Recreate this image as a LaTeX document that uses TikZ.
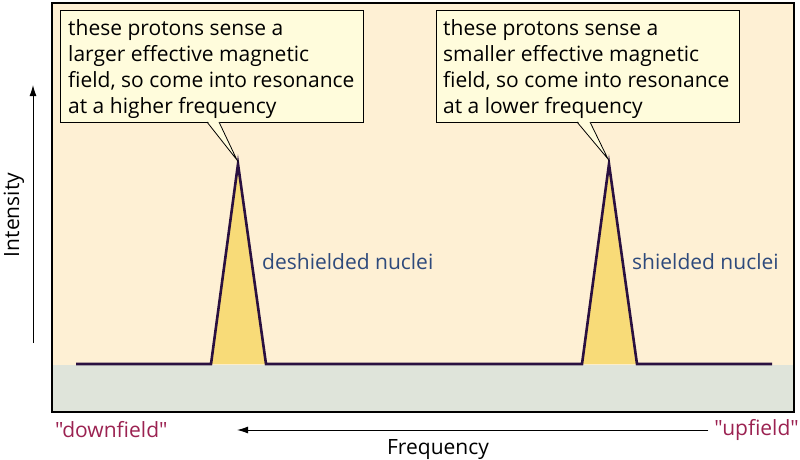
\documentclass[tikz,border=0pt]{standalone}
\usepackage{fontspec}
\setmainfont{Open Sans}[Ligatures=TeXOff]
\usetikzlibrary{arrows.meta}
\definecolor{cream}{HTML}{FEF0D4}
\definecolor{band}{HTML}{DFE4DA}
\definecolor{peakfill}{HTML}{F8DB78}
\definecolor{spec}{HTML}{2A1040}
\definecolor{callfill}{HTML}{FFFCDC}
\definecolor{nucblue}{HTML}{2E4A7C}
\definecolor{fieldred}{HTML}{9B2251}
\tikzset{
  txt/.style={font=\fontsize{21}{26}\selectfont, inner sep=0pt},
  callout/.style={draw=black, line width=1pt, fill=callfill, minimum width=303pt, minimum height=112pt, inner sep=0pt},
  calltext/.style={txt, align=left, anchor=north west},
  nuc/.style={txt, text=nucblue, anchor=west},
  fieldlbl/.style={txt, text=fieldred},
  spectrum/.style={draw=spec, line width=2.6pt, line join=miter},
  axisarrow/.style={draw=black, line width=1pt, -{Latex[length=11pt,width=7pt]}},
}
\begin{document}
\begin{tikzpicture}[x=1pt,y=-1pt]
\useasboundingbox (0,0) rectangle (800,459);
% background panel
\fill[cream] (52,3) rectangle (794,365);
\fill[band] (52,365) rectangle (794,412);
\draw[black, line width=1.2pt] (52,3) rectangle (794,412);
% peaks
\coordinate (b1l) at (211,364); \coordinate (p1) at (238,164); \coordinate (b1r) at (266,364);
\coordinate (b2l) at (582,364); \coordinate (p2) at (609,164); \coordinate (b2r) at (637,364);
\coordinate (s0) at (76,364); \coordinate (s1) at (772,364);
\fill[peakfill] (b1l) -- (p1) -- (b1r) -- cycle;
\fill[peakfill] (b2l) -- (p2) -- (b2r) -- cycle;
\draw[spectrum] (s0) -- (b1l) -- (p1) -- (b1r) -- (b2l) -- (p2) -- (b2r) -- (s1);
% callouts
\node[callout] (c1) at (211.5,66) {};
\node[callout] (c2) at (588,66) {};
\coordinate (t1) at (237,160); \coordinate (t2) at (608,159);
\coordinate (a1) at (207,122); \coordinate (a2) at (219,122);
\coordinate (d1) at (577,122); \coordinate (d2) at (590,122);
\fill[callfill] ([yshift=1.5pt]a1) -- (t1) -- ([yshift=1.5pt]a2) -- cycle;
\draw[black, line width=0.8pt] (a1) -- (t1) -- (a2);
\fill[callfill] ([yshift=1.5pt]d1) -- (t2) -- ([yshift=1.5pt]d2) -- cycle;
\draw[black, line width=0.8pt] (d1) -- (t2) -- (d2);
\node[calltext] (ct1) at (68,19) {these protons sense a\\larger effective magnetic\\field, so come into resonance\\at a higher frequency};
\node[calltext] (ct2) at (443,19) {these protons sense a\\smaller effective magnetic\\field, so come into resonance\\at a lower frequency};
% peak labels
\node[nuc] (n1) at (262,262) {deshielded nuclei};
\node[nuc] (n2) at (632,262) {shielded nuclei};
% intensity axis
\coordinate (i0) at (33,343); \coordinate (i1) at (33,85);
\draw[axisarrow] (i0) -- (i1);
\node[txt, rotate=90] (il) at (14,215) {Intensity};
% frequency axis
\node[fieldlbl, anchor=west] (down) at (55,430) {"downfield"};
\node[fieldlbl, anchor=east] (up) at (799,430) {"upfield"};
\coordinate (f1) at (237,430);
\draw[axisarrow] ([xshift=-6pt]up.west) -- (f1);
\node[txt] (fl) at (438,450) {Frequency};
\end{tikzpicture}
\end{document}
